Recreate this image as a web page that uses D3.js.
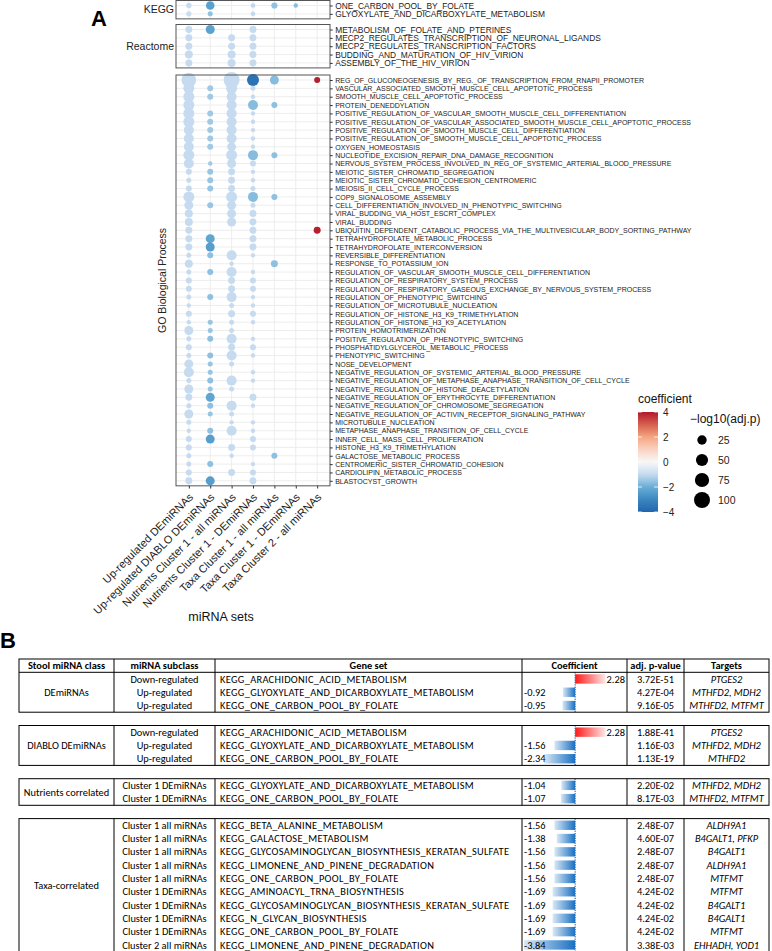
<!DOCTYPE html>
<html>
<head>
<meta charset="utf-8">
<script src="https://cdn.jsdelivr.net/npm/d3@7"></script>
<style>
  body { margin: 0; background: #fff; }
  svg { display: block; font-family: "Liberation Sans", Arial, sans-serif; }
</style>
</head>
<body>
<svg id="fig" width="772" height="951"></svg>
<script>
const _ = null

// ---- panel A data ----
const miRNASets = [
  "Up-regulated DEmiRNAs", "Up-regulated DIABLO DEmiRNAs", "Nutrients Cluster 1 - all miRNAs",
  "Nutrients Cluster 1 - DEmiRNAs", "Taxa Cluster 1 - all miRNAs", "Taxa Cluster 1 - DEmiRNAs",
  "Taxa Cluster 2 - all miRNAs"
]

const keggTerms = ["ONE_CARBON_POOL_BY_FOLATE", "GLYOXYLATE_AND_DICARBOXYLATE_METABOLISM"]
const keggSize = [
  [4.04, 18.9, _, 2.09, 6.6, 1.37, _],
  [3.37, 2.94, _, 1.66, _, _, _]
]
const keggCoef = [
  [-0.95, -2.34, _, -1.07, -1.56, -1.69, _],
  [-0.92, -1.56, _, -1.04, _, _, _]
]

const reactomeTerms = [
  "METABOLISM_OF_FOLATE_AND_PTERINES", "MECP2_REGULATES_TRANSCRIPTION_OF_NEURONAL_LIGANDS",
  "MECP2_REGULATES_TRANSCRIPTION_FACTORS", "BUDDING_AND_MATURATION_OF_HIV_VIRION",
  "ASSEMBLY_OF_THE_HIV_VIRION"
]
const reactomeSize = [
  [10, 22, _, 10, _, _, _],
  [10, _, 10, 10, _, _, _],
  [10, _, 10, 10, _, _, _],
  [15.5, _, 15.5, 10, _, _, _],
  [10, _, 15.5, 10, _, _, _]
]
const reactomeCoef = [
  [-1, -2.3, _, -1, _, _, _],
  [-1, _, -1, -1, _, _, _],
  [-1, _, -1, -1, _, _, _],
  [-1, _, -1, -1, _, _, _],
  [-1, _, -1, -1, _, _, _]
]

const goTerms = [
  "REG_OF_GLUCONEOGENESIS_BY_REG._OF_TRANSCRIPTION_FROM_RNAPII_PROMOTER",
  "VASCULAR_ASSOCIATED_SMOOTH_MUSCLE_CELL_APOPTOTIC_PROCESS",
  "SMOOTH_MUSCLE_CELL_APOPTOTIC_PROCESS",
  "PROTEIN_DENEDDYLATION",
  "POSITIVE_REGULATION_OF_VASCULAR_SMOOTH_MUSCLE_CELL_DIFFERENTIATION",
  "POSITIVE_REGULATION_OF_VASCULAR_ASSOCIATED_SMOOTH_MUSCLE_CELL_APOPTOTIC_PROCESS",
  "POSITIVE_REGULATION_OF_SMOOTH_MUSCLE_CELL_DIFFERENTIATION",
  "POSITIVE_REGULATION_OF_SMOOTH_MUSCLE_CELL_APOPTOTIC_PROCESS",
  "OXYGEN_HOMEOSTASIS",
  "NUCLEOTIDE_EXCISION_REPAIR_DNA_DAMAGE_RECOGNITION",
  "NERVOUS_SYSTEM_PROCESS_INVOLVED_IN_REG_OF_SYSTEMIC_ARTERIAL_BLOOD_PRESSURE",
  "MEIOTIC_SISTER_CHROMATID_SEGREGATION",
  "MEIOTIC_SISTER_CHROMATID_COHESION_CENTROMERIC",
  "MEIOSIS_II_CELL_CYCLE_PROCESS",
  "COP9_SIGNALOSOME_ASSEMBLY",
  "CELL_DIFFERENTIATION_INVOLVED_IN_PHENOTYPIC_SWITCHING",
  "VIRAL_BUDDING_VIA_HOST_ESCRT_COMPLEX",
  "VIRAL_BUDDING",
  "UBIQUITIN_DEPENDENT_CATABOLIC_PROCESS_VIA_THE_MULTIVESICULAR_BODY_SORTING_PATHWAY",
  "TETRAHYDROFOLATE_METABOLIC_PROCESS",
  "TETRAHYDROFOLATE_INTERCONVERSION",
  "REVERSIBLE_DIFFERENTIATION",
  "RESPONSE_TO_POTASSIUM_ION",
  "REGULATION_OF_VASCULAR_SMOOTH_MUSCLE_CELL_DIFFERENTIATION",
  "REGULATION_OF_RESPIRATORY_SYSTEM_PROCESS",
  "REGULATION_OF_RESPIRATORY_GASEOUS_EXCHANGE_BY_NERVOUS_SYSTEM_PROCESS",
  "REGULATION_OF_PHENOTYPIC_SWITCHING",
  "REGULATION_OF_MICROTUBULE_NUCLEATION",
  "REGULATION_OF_HISTONE_H3_K9_TRIMETHYLATION",
  "REGULATION_OF_HISTONE_H3_K9_ACETYLATION",
  "PROTEIN_HOMOTRIMERIZATION",
  "POSITIVE_REGULATION_OF_PHENOTYPIC_SWITCHING",
  "PHOSPHATIDYLGLYCEROL_METABOLIC_PROCESS",
  "PHENOTYPIC_SWITCHING",
  "NOSE_DEVELOPMENT",
  "NEGATIVE_REGULATION_OF_SYSTEMIC_ARTERIAL_BLOOD_PRESSURE",
  "NEGATIVE_REGULATION_OF_METAPHASE_ANAPHASE_TRANSITION_OF_CELL_CYCLE",
  "NEGATIVE_REGULATION_OF_HISTONE_DEACETYLATION",
  "NEGATIVE_REGULATION_OF_ERYTHROCYTE_DIFFERENTIATION",
  "NEGATIVE_REGULATION_OF_CHROMOSOME_SEGREGATION",
  "NEGATIVE_REGULATION_OF_ACTIVIN_RECEPTOR_SIGNALING_PATHWAY",
  "MICROTUBULE_NUCLEATION",
  "METAPHASE_ANAPHASE_TRANSITION_OF_CELL_CYCLE",
  "INNER_CELL_MASS_CELL_PROLIFERATION",
  "HISTONE_H3_K9_TRIMETHYLATION",
  "GALACTOSE_METABOLIC_PROCESS",
  "CENTROMERIC_SISTER_CHROMATID_COHESION",
  "CARDIOLIPIN_METABOLIC_PROCESS",
  "BLASTOCYST_GROWTH"
]

// -log10(adj.p) per term (rows) and miRNA set (columns)
const goSize = [
  [80, _, 100, 49, 22, _, 5.9],
  [39, 5.9, 39, 2.8, _, _, _],
  [39, 5.9, 30, 1.5, _, _, _],
  [39, _, 30, 30, 5.9, _, _],
  [39, 5.9, 30, 1.5, _, _, _],
  [39, 5.9, 30, 1.5, _, _, _],
  [30, 5.9, 30, 1.5, _, _, _],
  [30, 5.9, 30, 1.5, _, _, _],
  [30, 5.9, 22, 1.5, _, _, _],
  [39, _, 39, 30, 5.9, _, _],
  [30, 1.5, 22, 5.9, _, _, _],
  [5.9, 5.9, 10, 1.5, _, _, _],
  [2.8, 5.9, 10, 1.5, _, _, _],
  [5.9, 5.9, 10, 2.8, _, _, _],
  [39, _, 39, 30, 5.9, _, _],
  [22, 5.9, 22, 2.8, _, _, _],
  [15.5, _, 22, 10, _, _, _],
  [15.5, _, 22, 10, _, _, _],
  [10, _, _, 10, _, _, 10],
  [10, 22, _, 10, _, _, _],
  [10, 22, _, 10, _, _, _],
  [2.8, 5.9, 30, 1.5, _, _, _],
  [15.5, _, 1.5, _, 10, _, _],
  [2.8, 5.9, 30, 1.5, _, _, _],
  [5.9, _, 10, 5.9, _, _, _],
  [5.9, _, 10, 5.9, _, _, _],
  [2.8, 5.9, 30, 1.5, _, _, _],
  [1.5, _, 2.8, 1.5, _, _, _],
  [5.9, _, 10, 5.9, _, _, _],
  [1.5, 2.8, 2.8, 1.5, _, _, _],
  [22, 2.8, 2.8, _, _, _, _],
  [2.8, 5.9, 30, 1.5, _, _, _],
  [5.9, _, 10, 5.9, _, _, _],
  [2.8, 5.9, 30, 1.5, _, _, _],
  [22, 2.8, 2.8, _, _, _, _],
  [30, 2.8, _, 1.5, _, _, _],
  [2.8, 5.9, 30, 1.5, _, _, _],
  [22, 2.8, 2.8, _, _, _, _],
  [10, 22, _, 10, _, _, _],
  [2.8, 5.9, 30, 1.5, _, _, _],
  [22, 2.8, 2.8, _, _, _, _],
  [2.8, _, 1.5, 1.5, _, _, _],
  [1.5, 5.9, 30, 1.5, _, _, _],
  [5.9, 22, _, 5.9, _, _, _],
  [5.9, _, 10, 5.9, _, _, _],
  [2.8, _, 1.5, _, 5.9, _, _],
  [2.8, 5.9, _, 1.5, _, _, _],
  [5.9, _, 10, 5.9, _, _, _],
  [10, 22, _, 10, _, _, _]
]

const goCoef = [
  [-1, _, -1, -3.6, -1.7, _, 3.9],
  [-1, -1.4, -1, -1, _, _, _],
  [-1, -1.4, -1, -1, _, _, _],
  [-1, _, -1, -1.7, -1.6, _, _],
  [-1, -1.4, -1, -1, _, _, _],
  [-1, -1.4, -1, -1, _, _, _],
  [-1, -1.4, -1, -1, _, _, _],
  [-1, -1.4, -1, -1, _, _, _],
  [-1, -1.4, -1, -1, _, _, _],
  [-1, _, -1, -1.7, -1.6, _, _],
  [-1, -1.4, -1, -1, _, _, _],
  [-1, -1.5, -1, -1, _, _, _],
  [-1, -1.5, -1, -1, _, _, _],
  [-1, -1.5, -1, -1, _, _, _],
  [-1, _, -1, -1.7, -1.6, _, _],
  [-1, -1.5, -1, -1, _, _, _],
  [-1, _, -1, -1, _, _, _],
  [-1, _, -1, -1, _, _, _],
  [-1, _, _, -1, _, _, 3.9],
  [-1, -2.2, _, -1, _, _, _],
  [-1, -2.4, _, -1, _, _, _],
  [-1, -1.6, -1, -1, _, _, _],
  [-1, _, -1, _, -1.6, _, _],
  [-1, -1.6, -1, -1, _, _, _],
  [-1, _, -1, -1, _, _, _],
  [-1, _, -1, -1, _, _, _],
  [-1, -1.6, -1, -1, _, _, _],
  [-1, _, -1, -1, _, _, _],
  [-1, _, -1, -1, _, _, _],
  [-1, -1.5, -1, -1, _, _, _],
  [-1, -1.5, -1, _, _, _, _],
  [-1, -1.6, -1, -1, _, _, _],
  [-1, _, -1, -1, _, _, _],
  [-1, -1.6, -1, -1, _, _, _],
  [-1, -1.5, -1, _, _, _, _],
  [-1, -1.5, _, -1, _, _, _],
  [-1, -1.6, -1, -1, _, _, _],
  [-1, -1.5, -1, _, _, _, _],
  [-1, -2.2, _, -1, _, _, _],
  [-1, -1.6, -1, -1, _, _, _],
  [-1, -1.5, -1, _, _, _, _],
  [-1, _, -1, -1, _, _, _],
  [-1, -1.6, -1, -1, _, _, _],
  [-1, -2.4, _, -1, _, _, _],
  [-1, _, -1, -1, _, _, _],
  [-1, _, -1, _, -1.6, _, _],
  [-1, -1.6, _, -1, _, _, _],
  [-1, _, -1, -1, _, _, _],
  [-1, -2.4, _, -1, _, _, _]
]

const coefTicks = [4, 2, 0, -2, -4]
const sizeTicks = [25, 50, 75, 100]

// ---- panel B data ----
const groupClass = ["DEmiRNAs", "DIABLO DEmiRNAs", "Nutrients correlated", "Taxa-correlated"]
const groupSize = [3, 3, 2, 10]
const subclass = [
  "Down-regulated", "Up-regulated", "Up-regulated",
  "Down-regulated", "Up-regulated", "Up-regulated",
  "Cluster 1 DEmiRNAs", "Cluster 1 DEmiRNAs",
  "Cluster 1 all miRNAs", "Cluster 1 all miRNAs", "Cluster 1 all miRNAs", "Cluster 1 all miRNAs",
  "Cluster 1 all miRNAs", "Cluster 1 DEmiRNAs", "Cluster 1 DEmiRNAs", "Cluster 1 DEmiRNAs",
  "Cluster 1 DEmiRNAs", "Cluster 2 all miRNAs"
]
const geneSet = [
  "KEGG_ARACHIDONIC_ACID_METABOLISM", "KEGG_GLYOXYLATE_AND_DICARBOXYLATE_METABOLISM", "KEGG_ONE_CARBON_POOL_BY_FOLATE",
  "KEGG_ARACHIDONIC_ACID_METABOLISM", "KEGG_GLYOXYLATE_AND_DICARBOXYLATE_METABOLISM", "KEGG_ONE_CARBON_POOL_BY_FOLATE",
  "KEGG_GLYOXYLATE_AND_DICARBOXYLATE_METABOLISM", "KEGG_ONE_CARBON_POOL_BY_FOLATE",
  "KEGG_BETA_ALANINE_METABOLISM", "KEGG_GALACTOSE_METABOLISM",
  "KEGG_GLYCOSAMINOGLYCAN_BIOSYNTHESIS_KERATAN_SULFATE", "KEGG_LIMONENE_AND_PINENE_DEGRADATION",
  "KEGG_ONE_CARBON_POOL_BY_FOLATE", "KEGG_AMINOACYL_TRNA_BIOSYNTHESIS",
  "KEGG_GLYCOSAMINOGLYCAN_BIOSYNTHESIS_KERATAN_SULFATE", "KEGG_N_GLYCAN_BIOSYNTHESIS",
  "KEGG_ONE_CARBON_POOL_BY_FOLATE", "KEGG_LIMONENE_AND_PINENE_DEGRADATION"
]
const coefficient = [2.28, -0.92, -0.95, 2.28, -1.56, -2.34, -1.04, -1.07,
  -1.56, -1.38, -1.56, -1.56, -1.56, -1.69, -1.69, -1.69, -1.69, -3.84]
const adjP = ["3.72E-51", "4.27E-04", "9.16E-05", "1.88E-41", "1.16E-03", "1.13E-19", "2.20E-02", "8.17E-03",
  "2.48E-07", "4.60E-07", "2.48E-07", "2.48E-07", "2.48E-07", "4.24E-02", "4.24E-02", "4.24E-02", "4.24E-02", "3.38E-03"]
const targets = ["PTGES2", "MTHFD2, MDH2", "MTHFD2, MTFMT", "PTGES2", "MTHFD2, MDH2", "MTHFD2",
  "MTHFD2, MDH2", "MTHFD2, MTFMT", "ALDH9A1", "B4GALT1, PFKP", "B4GALT1", "ALDH9A1", "MTFMT",
  "MTFMT", "B4GALT1", "B4GALT1", "MTFMT", "EHHADH, YOD1"]
const tableHeader = ["Stool miRNA class", "miRNA subclass", "Gene set", "Coefficient", "adj. p-value", "Targets"]

// ---- drawing ----
const svg = d3.select("#fig")
const defs = svg.append("defs")

const color = d3.scaleLinear()
  .domain([-4, -3, -2, -1, 0, 1, 2, 3, 4])
  .range(["#2166ac", "#3a87c0", "#6aaed6", "#c6dbef", "#f7f7f7", "#fbd3c2", "#f4a582", "#d6604d", "#b2182b"])
const radius = d3.scaleSqrt().domain([0, 100]).range([1.4, 8])

const unit = 8.35
const x = d3.scalePoint().domain(miRNASets).range([176, 330]).padding(0.6)

const panels = [
  { strip: "KEGG", terms: keggTerms, size: keggSize, coef: keggCoef, top: 0.5, font: 8.4 },
  { strip: "Reactome", terms: reactomeTerms, size: reactomeSize, coef: reactomeCoef, top: 24.5, font: 8.4 },
  { strip: "GO Biological Process", terms: goTerms, size: goSize, coef: goCoef, top: 75, font: 7, vertical: true }
]

let lastBottom = 0
panels.forEach(p => {
  const bottom = p.top + (p.terms.length - 1 + 1.2) * unit
  lastBottom = bottom
  const y = d3.scalePoint().domain(p.terms).range([p.top, bottom]).padding(0.6)
  const g = svg.append("g")

  g.selectAll(".gx").data(miRNASets).join("line")
    .attr("x1", d => x(d)).attr("x2", d => x(d))
    .attr("y1", p.top).attr("y2", bottom)
    .attr("stroke", "#ebebeb").attr("stroke-width", 0.9)
  g.selectAll(".gy").data(p.terms).join("line")
    .attr("x1", 176).attr("x2", 330)
    .attr("y1", d => y(d)).attr("y2", d => y(d))
    .attr("stroke", "#ebebeb").attr("stroke-width", 0.9)

  const cells = []
  p.terms.forEach((t, i) => miRNASets.forEach((s, j) => {
    if (p.size[i][j] != null) cells.push({ t, s, v: p.size[i][j], c: p.coef[i][j] })
  }))
  g.selectAll("circle").data(cells).join("circle")
    .attr("cx", d => x(d.s)).attr("cy", d => y(d.t))
    .attr("r", d => radius(d.v))
    .attr("fill", d => color(d.c))

  g.append("rect")
    .attr("x", 176).attr("y", p.top).attr("width", 154).attr("height", bottom - p.top)
    .attr("fill", "none").attr("stroke", "#555").attr("stroke-width", 1)

  const ax = g.append("g").attr("transform", "translate(330,0)")
    .call(d3.axisRight(y).tickSize(2.7).tickPadding(2.5))
  ax.select(".domain").remove()
  ax.selectAll("line").attr("stroke", "#333")
  ax.selectAll("text").attr("font-size", p.font + "px").attr("fill", "#222")
    .attr("font-family", "'Liberation Sans', Arial, sans-serif")

  if (p.vertical) {
    g.append("text")
      .attr("transform", `translate(166,${(p.top + bottom) / 2}) rotate(-90)`)
      .attr("text-anchor", "middle").attr("font-size", "10.5px").attr("fill", "#222")
      .text(p.strip)
  } else {
    g.append("text")
      .attr("x", 174).attr("y", (p.top + bottom) / 2).attr("dy", "0.35em")
      .attr("text-anchor", "end").attr("font-size", "10.5px").attr("fill", "#222")
      .text(p.strip)
  }
})

const xa = svg.append("g").attr("transform", `translate(0,${lastBottom})`)
  .call(d3.axisBottom(x).tickSize(2.7))
xa.select(".domain").remove()
xa.selectAll("line").attr("stroke", "#333")
xa.selectAll("text")
  .attr("x", 0).attr("y", 0).attr("dy", "0.7em")
  .attr("transform", "translate(-1,6.5) rotate(-45)")
  .attr("text-anchor", "end")
  .attr("font-size", "11px").attr("fill", "#222")
  .attr("font-family", "'Liberation Sans', Arial, sans-serif")

svg.append("text").attr("x", 221).attr("y", 621).attr("text-anchor", "middle")
  .attr("font-size", "12.5px").attr("fill", "#111").text("miRNA sets")

svg.append("text").attr("x", 91).attr("y", 26).attr("font-size", "22px")
  .attr("font-weight", "bold").text("A")

// colour legend
const cb = defs.append("linearGradient").attr("id", "cbar")
  .attr("x1", 0).attr("x2", 0).attr("y1", 1).attr("y2", 0)
d3.range(0, 1.0001, 0.05).forEach(t => {
  cb.append("stop").attr("offset", t).attr("stop-color", color(-4 + 8 * t))
})
const yl = d3.scaleLinear().domain([-4, 4]).range([512, 412])
svg.append("text").attr("x", 638).attr("y", 403).attr("font-size", "12px").attr("fill", "#111").text("coefficient")
svg.append("rect").attr("x", 638).attr("y", 412).attr("width", 20).attr("height", 100).attr("fill", "url(#cbar)")
svg.selectAll(".cbt").data(coefTicks).join("g").each(function (d) {
  const gg = d3.select(this)
  gg.append("line").attr("x1", 638).attr("x2", 642).attr("y1", yl(d)).attr("y2", yl(d)).attr("stroke", "#fff").attr("stroke-width", 0.8)
  gg.append("line").attr("x1", 654).attr("x2", 658).attr("y1", yl(d)).attr("y2", yl(d)).attr("stroke", "#fff").attr("stroke-width", 0.8)
  gg.append("text").attr("x", 663).attr("y", yl(d)).attr("dy", "0.35em")
    .attr("font-size", "10px").attr("fill", "#222")
    .text(d < 0 ? "\u2212" + Math.abs(d) : d)
})

// size legend
svg.append("text").attr("x", 690).attr("y", 423).attr("font-size", "12px").attr("fill", "#111").text("\u2212log10(adj.p)")
svg.selectAll(".szl").data(sizeTicks).join("g").each(function (d, i) {
  const gg = d3.select(this)
  gg.append("circle").attr("cx", 702).attr("cy", 440 + i * 20).attr("r", radius(d)).attr("fill", "#000")
  gg.append("text").attr("x", 718).attr("y", 440 + i * 20).attr("dy", "0.35em")
    .attr("font-size", "10.5px").attr("fill", "#222").text(d)
})

// ---- panel B ----
svg.append("text").attr("x", 0).attr("y", 648).attr("font-size", "22px").attr("font-weight", "bold").text("B")

const cols = [19, 114, 215, 522, 627, 684, 769]
const rowH = 13.3
const tableTop = 659
const xb = d3.scaleLinear().domain([-3.84, 2.28]).range([524, 605.5])

const blueGrad = defs.append("linearGradient").attr("id", "blueBar")
blueGrad.append("stop").attr("offset", 0).attr("stop-color", "#d9e8f6")
blueGrad.append("stop").attr("offset", 1).attr("stop-color", "#1a70c2")
const redGrad = defs.append("linearGradient").attr("id", "redBar")
redGrad.append("stop").attr("offset", 0).attr("stop-color", "#ff1a1a")
redGrad.append("stop").attr("offset", 1).attr("stop-color", "#fde6e6")

const gB = svg.append("g").attr("font-family", "Carlito, Lato, 'Open Sans', sans-serif").attr("font-size", "10.4px").attr("fill", "#000")
const mid = i => (cols[i] + cols[i + 1]) / 2

let slot = 0
let rowIndex = 0
groupClass.forEach((cls, gi) => {
  const tTop = tableTop + slot * rowH
  if (gi === 0) {
    tableHeader.forEach((h, k) => {
      gB.append("text").attr("x", mid(k)).attr("y", tTop + rowH / 2).attr("dy", "0.35em")
        .attr("text-anchor", "middle").attr("font-weight", "bold").text(h)
    })
    slot += 1
  }
  const bodyTop = tableTop + slot * rowH
  const n = groupSize[gi]
  const bodyBottom = bodyTop + n * rowH

  gB.append("line").attr("x1", xb(0)).attr("x2", xb(0)).attr("y1", bodyTop).attr("y2", bodyBottom)
    .attr("stroke", "#1f3f80").attr("stroke-width", 1).attr("stroke-dasharray", "1.2,1.2")

  for (let k = 0; k < n; k++) {
    const i = rowIndex + k
    const cy = bodyTop + (k + 0.5) * rowH
    const v = coefficient[i]
    gB.append("rect")
      .attr("x", Math.min(xb(0), xb(v))).attr("y", cy - 4.7)
      .attr("width", Math.abs(xb(v) - xb(0))).attr("height", 9.4)
      .attr("fill", v < 0 ? "url(#blueBar)" : "url(#redBar)")
    gB.append("text").attr("x", v < 0 ? 524 : 625).attr("y", cy).attr("dy", "0.35em")
      .attr("text-anchor", v < 0 ? "start" : "end").text(v.toFixed(2))
    gB.append("text").attr("x", mid(1)).attr("y", cy).attr("dy", "0.35em")
      .attr("text-anchor", "middle").text(subclass[i])
    gB.append("text").attr("x", 220).attr("y", cy).attr("dy", "0.35em")
      .attr("letter-spacing", "0.3px").text(geneSet[i])
    gB.append("text").attr("x", mid(4)).attr("y", cy).attr("dy", "0.35em")
      .attr("text-anchor", "middle").text(adjP[i])
    gB.append("text").attr("x", mid(5)).attr("y", cy).attr("dy", "0.35em")
      .attr("text-anchor", "middle").attr("font-style", "italic").text(targets[i])
  }
  gB.append("text").attr("x", mid(0)).attr("y", (bodyTop + bodyBottom) / 2).attr("dy", "0.35em")
    .attr("text-anchor", "middle").text(cls)

  gB.append("rect").attr("x", cols[0]).attr("y", tTop).attr("width", cols[6] - cols[0]).attr("height", bodyBottom - tTop)
    .attr("fill", "none").attr("stroke", "#000").attr("stroke-width", 1)
  if (gi === 0) {
    gB.append("line").attr("x1", cols[0]).attr("x2", cols[6]).attr("y1", bodyTop).attr("y2", bodyTop)
      .attr("stroke", "#000").attr("stroke-width", 1)
  }
  gB.selectAll(null).data([1, 2, 3, 4, 5]).join("line")
    .attr("x1", d => cols[d]).attr("x2", d => cols[d]).attr("y1", tTop).attr("y2", bodyBottom)
    .attr("stroke", "#000").attr("stroke-width", 1)

  rowIndex += n
  slot += n + 1
})
</script>
</body>
</html>
